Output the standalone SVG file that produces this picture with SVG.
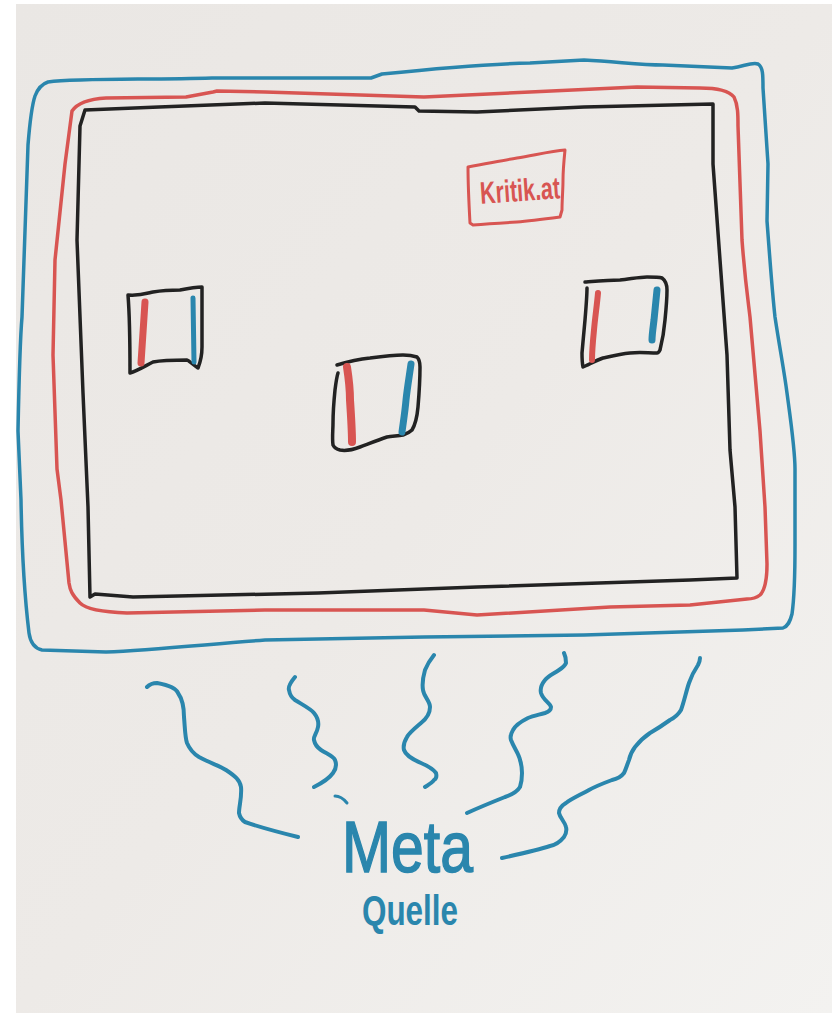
<svg xmlns="http://www.w3.org/2000/svg" width="832" height="1016" viewBox="0 0 832 1016">
  <defs>
    <linearGradient id="paper" x1="0" y1="0" x2="1" y2="1">
      <stop offset="0" stop-color="#eae7e4"/>
      <stop offset="0.5" stop-color="#edeae7"/>
      <stop offset="1" stop-color="#f3f2f0"/>
    </linearGradient>
    <style>
      .ink { fill: none; stroke-linecap: round; stroke-linejoin: round; }
      .blue { stroke: #2a86ad; }
      .red { stroke: #d85552; }
      .black { stroke: #222222; }
      .frame { stroke-width: 3.5; }
      .wave { stroke-width: 4; }
      .flag { stroke-width: 3.5; }
      .hand { font-family: "Liberation Sans Narrow", "Liberation Sans", sans-serif; }
    </style>
  </defs>

  <rect x="0" y="0" width="832" height="1016" fill="#ffffff"/>
  <rect x="16" y="4" width="816" height="1009" fill="url(#paper)"/>

  <g id="frame-blue">
    <path class="ink blue frame" d="M48,82 C80,78 150,80 212,78 L371,78 L382,74 C420,70 480,64 530,63 L584,60 C620,62 640,65 663,65 L732,68 C745,66 752,62 758,64 C763,67 763,75 763,88 L768,164 L767,221 C770,260 772,290 775,317 C780,350 784,370 787,393 C792,430 795,450 795,469 L795,545 C795,580 794,600 792,614 C790,622 788,626 783,628 L743,630 L584,635 L424,637 L265,640 C200,645 150,650 106,652 L42,650 C33,648 30,640 29,633 C25,600 22,560 21,500 L18,431 C19,380 20,340 22,317 L28,145 C30,120 32,105 35,96 C38,88 42,84 48,82 Z"/>
  </g>

  <g id="frame-red">
    <path class="ink red frame" d="M106,98 L186,97 L213,92 L217,91 L265,92 L424,97 L530,92 L637,87 L700,88 C720,88 730,92 734,97 C738,105 738,115 738,126 L742,240 C745,280 748,300 750,317 L760,431 L765,507 L767,564 C767,580 765,590 760,595 C755,599 750,599 747,599 L690,605 L610,607 L477,615 L424,610 L265,610 L127,613 C100,612 85,608 80,603 C72,595 70,590 69,583 L61,500 L57,469 L53,355 L55,260 L65,164 L72,111 C78,102 90,99 106,98 Z"/>
  </g>

  <g id="frame-black">
    <path class="ink black frame" d="M85,110 L159,107 L265,103 L415,107 L419,111 L477,112 L584,107 L713,104 L713,164 L720,260 L727,355 L730,450 L735,507 L737,578 L690,580 L477,587 L318,593 L133,597 L95,594 L90,597 L88,507 L83,393 L77,240 L80,126 Z"/>
  </g>

  <g id="kritikat">
    <path class="ink red" stroke-width="3" d="M468,167 C490,163 505,160 517,158 C535,155 552,151 565,150 C564,160 563,170 563,180 C563,190 562,200 562,210 L560,217 C545,219 530,221 517,222 C500,223 485,224 473,225 L470,223 C469,205 468,185 468,167 Z"/>
    <text class="hand" x="480" y="201" font-size="31" font-weight="bold" fill="#d85552" textLength="80" lengthAdjust="spacingAndGlyphs" transform="rotate(-4 520 190)">Kritik.at</text>
  </g>

  <g id="flag-left">
    <path class="ink black flag" d="M128,295 C140,296 148,293 153,292 C165,290 172,290 180,290 C190,288 196,287 202,287 C202,310 202,330 202,347 C202,356 200,363 198,368 C192,364 188,360 187,360 C175,360 163,360 153,362 C145,366 137,371 130,373 C130,350 130,320 128,295 Z"/>
    <path class="ink red" stroke-width="7" stroke-linecap="butt" d="M145,302 L141,363"/>
    <path class="ink blue" stroke-width="5" stroke-linecap="butt" d="M193,298 L194,362"/>
  </g>

  <g id="flag-middle">
    <path class="ink black flag" d="M337,365 C350,361 360,359 370,358 C385,356 395,355 403,355 C410,355 414,356 417,357 C420,360 420,363 420,367 C420,380 419,395 418,407 C417,418 415,425 412,430 C409,433 406,434 403,435 C398,436 392,436 387,437 C378,440 368,444 360,447 C352,450 345,451 340,450 C336,449 334,447 333,445 C332,438 333,430 333,423 C333,410 334,400 335,390 C336,382 337,376 338,373"/>
    <path class="ink red" stroke-width="8" stroke-linecap="butt" d="M347,367 C349,380 350,392 350,400 C351,415 352,430 352,442"/>
    <path class="ink blue" stroke-width="7" stroke-linecap="butt" d="M411,364 C409,378 407,390 406,400 C405,412 403,424 402,432"/>
  </g>

  <g id="flag-right">
    <path class="ink black flag" d="M585,282 C598,281 610,280 620,280 C630,279 640,277 647,277 C654,277 659,277 662,278 C666,281 667,285 667,290 C667,300 666,310 665,320 C664,332 662,342 660,350 C659,352 658,353 657,353 C648,353 640,352 630,353 C620,354 612,356 603,358 C595,361 588,365 583,367 C582,362 582,358 582,353 C583,342 584,330 585,320 C586,308 587,296 587,288"/>
    <path class="ink red" stroke-width="6" stroke-linecap="butt" d="M598,293 C597,305 595,318 594,330 C593,340 592,350 592,360"/>
    <path class="ink blue" stroke-width="7" stroke-linecap="butt" d="M657,290 C656,300 655,310 654,320 C653,328 652,335 652,340"/>
  </g>

  <g id="connectors">
    <path class="ink blue wave" d="M147,687 C150,684 154,683 157,683 C168,685 176,688 178,693 C183,700 184,710 184,717 C185,728 185,737 187,743 C190,750 194,754 199,757 C210,763 220,766 226,770 C235,776 240,780 241,787 C242,797 239,806 239,813 C240,818 242,820 245,822 C262,828 282,833 298,837"/>
    <path class="ink blue wave" d="M295,677 C290,683 288,687 289,690 C290,696 292,698 295,700 C303,705 311,709 314,713 C318,718 319,722 318,727 C317,733 313,737 314,740 C315,745 318,748 321,750 C327,754 333,756 335,760 C337,765 336,769 333,773 C328,780 320,784 314,787"/>
    <path class="ink blue wave" d="M434,655 C430,660 427,665 425,670 C423,677 422,684 423,690 C424,697 430,701 430,707 C430,714 426,719 421,723 C414,729 409,733 407,737 C404,742 403,746 404,750 C406,756 414,760 421,763 C428,766 433,769 436,773 C437,777 436,779 434,780 C432,783 428,785 425,787"/>
    <path class="ink blue wave" d="M564,653 C566,657 566,660 566,663 C565,666 562,668 559,670 C553,674 548,676 545,680 C541,685 540,689 541,693 C543,700 550,703 551,707 C551,710 548,712 545,713 C538,715 533,716 528,718 C520,722 515,726 513,730 C510,735 510,737 511,740 C514,748 519,754 520,760 C522,766 522,770 522,773 C522,779 521,784 520,787 C517,792 511,795 505,797 C490,803 478,808 467,813"/>
    <path class="ink blue wave" d="M700,658 C700,661 699,663 698,665 C694,671 691,677 689,683 C686,692 684,702 681,710 C678,715 674,718 670,720 C663,725 657,729 650,733 C644,737 639,742 635,747 C632,751 630,755 629,760 C627,765 626,769 624,773 C621,777 617,779 612,780 C604,783 596,786 589,790 C580,795 571,799 566,803 C561,806 559,809 559,813 C560,818 565,822 566,827 C567,831 566,834 564,837 C560,842 555,845 550,846 C538,850 520,854 502,858"/>
    <path class="ink blue" stroke-width="3" d="M335,796 C339,796 343,798 347,803"/>
  </g>

  <g id="meta-quelle">
    <text class="hand" x="342" y="872" font-size="72" fill="#2a86ad" stroke="#2a86ad" stroke-width="1.5" textLength="131" lengthAdjust="spacingAndGlyphs">Meta</text>
    <text class="hand" x="362" y="925" font-size="42" font-weight="bold" fill="#2a86ad" textLength="96" lengthAdjust="spacingAndGlyphs">Quelle</text>
  </g>
</svg>
